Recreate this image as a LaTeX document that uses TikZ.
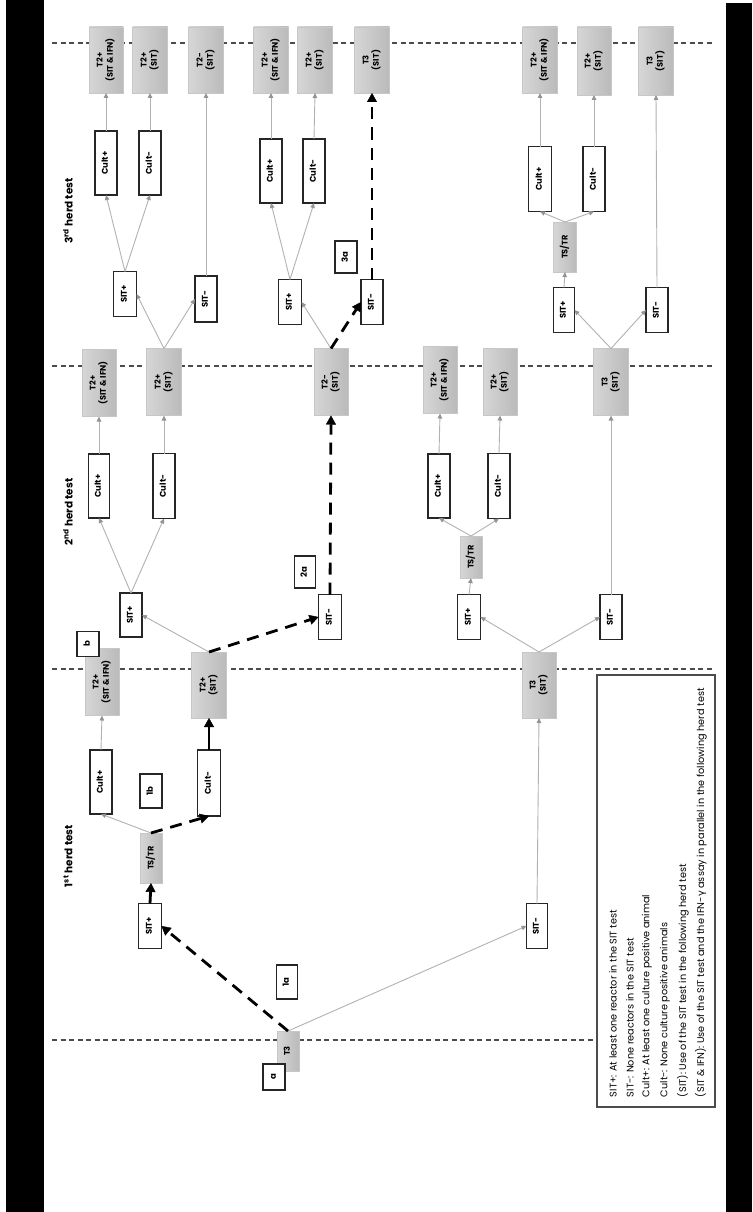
\documentclass[tikz,border=0pt]{standalone}
\usepackage{fontspec}
\setmainfont{Poppins}
\newfontfamily\grk{DejaVu Sans}
\usetikzlibrary{arrows.meta}
% rotated (bottom-to-top) box text, possibly on several lines
\newcommand\rt[1]{\rotatebox{90}{\begin{tabular}{@{}c@{}}#1\end{tabular}}}

\begin{document}
\begin{tikzpicture}[x=1pt,y=-1pt,
  every node/.style={inner sep=0pt, outer sep=0pt},
  sz/.style 2 args={minimum width=#1pt, minimum height=#2pt},
  box/.style={rectangle, draw=black!85, line width=1.1pt, fill=white,
    font=\bfseries\fontsize{8.4}{9.2}\selectfont},
  greybox/.style={rectangle, draw=black!22, line width=0.6pt,
    left color=black!16, right color=black!27,
    font=\bfseries\fontsize{8.2}{9.2}\selectfont},
  tag/.style={box, font=\bfseries\fontsize{8.5}{9.5}\selectfont},
  flow/.style={draw=black!30, line width=0.9pt,
    -{Triangle[length=5pt,width=4.5pt,color=black!42,fill=black!42]}},
  path1/.style={draw=black, line width=2.8pt, dash pattern=on 12pt off 8pt,
    -{Triangle[length=9pt,width=10pt,line width=0.4pt]}},
  path1solid/.style={draw=black, line width=2.8pt,
    -{Triangle[length=9pt,width=10pt,line width=0.4pt]}},
  sep/.style={draw=black!70, line width=1.3pt, dash pattern=on 5pt off 3.5pt},
  herd/.style={rotate=90, font=\bfseries\fontsize{10.5}{12}\selectfont},
  legend/.style={rotate=90, anchor=west, font=\fontsize{9.7}{11}\selectfont}
]
\useasboundingbox (0,0) rectangle (752,1212);
\fill[white] (0,0) rectangle (752,1212);

% side bars
\fill[black] (6,0) rectangle (44,1212);
\fill[black] (726,3) rectangle (752,1212);

% herd test boundaries
\draw[sep] (52,43) -- (712,43);
\draw[sep] (52,366) -- (712,366);
\draw[sep] (52,669) -- (712,669);
\draw[sep] (52,1040) -- (597,1040);

% stage titles
\node[herd] (h3) at (68,211) {3\textsuperscript{rd} herd test};
\node[herd] (h2) at (68,512) {2\textsuperscript{nd} herd test};
\node[herd] (h1) at (68,856) {1\textsuperscript{st} herd test};

% start
\node[greybox, sz={22}{40}] (t0) at (288,1051) {\rt{T3}};

% 1st herd test
\node[box, sz={23}{45}] (s1p) at (150,926) {\rt{SIT+}};
\node[box, sz={21}{45}] (s1m) at (537,926) {\rt{SIT-}};
\node[greybox, sz={22}{50}] (ts1) at (151,858) {\rt{TS/TR}};
\node[box, sz={22}{64}] (c1p) at (101,782) {\rt{Cult+}};
\node[box, sz={23}{66}] (c1m) at (209,783) {\rt{Cult-}};
\node[greybox, sz={34}{67}] (g1a) at (102,682) {\rt{T2+\\(SIT \& IFN)}};
\node[greybox, sz={35}{66}] (g1b) at (209,685) {\rt{T2+\\(SIT)}};
\node[greybox, sz={34}{66}] (g1c) at (539,685) {\rt{T3\\(SIT)}};

% 2nd herd test
\node[box, sz={22}{44}] (s2a) at (131,615) {\rt{SIT+}};
\node[box, sz={23}{45}] (s2b) at (330,617) {\rt{SIT-}};
\node[box, sz={23}{45}] (s2c) at (469,617) {\rt{SIT+}};
\node[box, sz={22}{45}] (s2d) at (611,617) {\rt{SIT-}};
\node[greybox, sz={22}{42}] (ts2) at (471,557) {\rt{TS/TR}};
\node[box, sz={21}{64}] (c2a) at (99,486) {\rt{Cult+}};
\node[box, sz={22}{65}] (c2b) at (164,486) {\rt{Cult-}};
\node[box, sz={22}{64}] (c2c) at (439,486) {\rt{Cult+}};
\node[box, sz={22}{65}] (c2d) at (499,486) {\rt{Cult-}};
\node[greybox, sz={34}{67}] (g2a) at (99,383) {\rt{T2+\\(SIT \& IFN)}};
\node[greybox, sz={35}{67}] (g2b) at (164,382) {\rt{T2+\\(SIT)}};
\node[greybox, sz={34}{67}] (g2c) at (331,382) {\rt{T2-\\(SIT)}};
\node[greybox, sz={34}{67}] (g2d) at (440,380) {\rt{T2+\\(SIT \& IFN)}};
\node[greybox, sz={34}{67}] (g2e) at (500,382) {\rt{T2+\\(SIT)}};
\node[greybox, sz={35}{67}] (g2f) at (611,382) {\rt{T3\\(SIT)}};

% 3rd herd test
\node[box, sz={23}{45}] (s3a) at (125,294) {\rt{SIT+}};
\node[box, sz={22}{46}] (s3b) at (206,299) {\rt{SIT-}};
\node[box, sz={23}{45}] (s3c) at (290,302) {\rt{SIT+}};
\node[box, sz={22}{45}] (s3d) at (372,302) {\rt{SIT-}};
\node[box, sz={21}{45}] (s3e) at (564,310) {\rt{SIT+}};
\node[box, sz={22}{45}] (s3f) at (657,310) {\rt{SIT-}};
\node[greybox, sz={23}{50}] (ts3) at (565,247) {\rt{TS/TR}};
\node[box, sz={22}{64}] (c3a) at (106,163) {\rt{Cult+}};
\node[box, sz={22}{64}] (c3b) at (150,163) {\rt{Cult-}};
\node[box, sz={22}{64}] (c3c) at (271,171) {\rt{Cult+}};
\node[box, sz={22}{64}] (c3d) at (314,171) {\rt{Cult-}};
\node[box, sz={23}{65}] (c3e) at (540,179) {\rt{Cult+}};
\node[box, sz={22}{65}] (c3f) at (594,179) {\rt{Cult-}};
\node[greybox, sz={34}{66}] (g3a) at (106,60) {\rt{T2+\\(SIT \& IFN)}};
\node[greybox, sz={35}{66}] (g3b) at (150,60) {\rt{T2+\\(SIT)}};
\node[greybox, sz={35}{66}] (g3c) at (206,60) {\rt{T2-\\(SIT)}};
\node[greybox, sz={35}{66}] (g3d) at (271,60) {\rt{T2+\\(SIT \& IFN)}};
\node[greybox, sz={35}{66}] (g3e) at (315,60) {\rt{T2+\\(SIT)}};
\node[greybox, sz={35}{66}] (g3f) at (372,60) {\rt{T3\\(SIT)}};
\node[greybox, sz={35}{66}] (g3g) at (540,60) {\rt{T2+\\(SIT \& IFN)}};
\node[greybox, sz={34}{68}] (g3h) at (594,61) {\rt{T2+\\(SIT)}};
\node[greybox, sz={35}{68}] (g3i) at (656,61) {\rt{T3\\(SIT)}};

% path tags
\node[tag, sz={22}{26}] (tga) at (274,1077) {\rt{a}};
\node[tag, sz={21}{34}] (tg1a) at (287,982) {\rt{1a}};
\node[tag, sz={22}{34}] (tg1b) at (151,791) {\rt{1b}};
\node[tag, sz={22}{25}] (tgb) at (88,644) {\rt{b}};
\node[tag, sz={21}{32}] (tg2a) at (305,572) {\rt{2a}};
\node[tag, sz={22}{32}] (tg3a) at (346,257) {\rt{3a}};

% connectors, 1st herd test
\draw[flow] (t0.north) -- (s1m.west);
\draw[path1] (t0.north) -- (s1p.east);
\draw[path1solid] (s1p.north) -- (ts1.south);
\draw[flow] (ts1.north) -- (c1p.south);
\draw[path1] (ts1.north) -- (c1m.south);
\draw[flow] (c1p.north) -- (g1a.south);
\draw[path1solid] (c1m.north) -- (g1b.south);
\draw[flow] (s1m.north) -- (g1c.south);

% connectors, 2nd herd test
\draw[flow] (g1b.north) -- (s2a.east);
\draw[path1] (g1b.north) -- (s2b.west);
\draw[flow] (g1c.north) -- (s2c.east);
\draw[flow] (g1c.north) -- (s2d.west);
\draw[flow] (s2a.north) -- (c2a.south);
\draw[flow] (s2a.north) -- (c2b.south);
\draw[flow] (c2a.north) -- (g2a.south);
\draw[flow] (c2b.north) -- (g2b.south);
\draw[path1] (s2b.north) -- (g2c.south);
\draw[flow] (s2c.north) -- (ts2.south);
\draw[flow] (ts2.north) -- (c2c.south);
\draw[flow] (ts2.north) -- (c2d.south);
\draw[flow] (c2c.north) -- (g2d.south);
\draw[flow] (c2d.north) -- (g2e.south);
\draw[flow] (s2d.north) -- (g2f.south);

% connectors, 3rd herd test
\draw[flow] (g2b.north) -- (s3a.east);
\draw[flow] (g2b.north) -- (s3b.west);
\draw[flow] (g2c.north) -- (s3c.east);
\draw[path1] (g2c.north) -- (s3d.west);
\draw[flow] (g2f.north) -- (s3e.east);
\draw[flow] (g2f.north) -- (s3f.west);
\draw[flow] (s3a.north) -- (c3a.south);
\draw[flow] (s3a.north) -- (c3b.south);
\draw[flow] (c3a.north) -- (g3a.south);
\draw[flow] (c3b.north) -- (g3b.south);
\draw[flow] (s3b.north) -- (g3c.south);
\draw[flow] (s3c.north) -- (c3c.south);
\draw[flow] (s3c.north) -- (c3d.south);
\draw[flow] (c3c.north) -- (g3d.south);
\draw[flow] (c3d.north) -- (g3e.south);
\draw[path1] (s3d.north) -- (g3f.south);
\draw[flow] (s3e.north) -- (ts3.south);
\draw[flow] (ts3.north) -- (c3e.south);
\draw[flow] (ts3.north) -- (c3f.south);
\draw[flow] (c3e.north) -- (g3g.south);
\draw[flow] (c3f.north) -- (g3h.south);
\draw[flow] (s3f.north) -- (g3i.south);

% legend
\draw[black!70, line width=1.2pt, fill=white] (597,675) rectangle (715,1107);
\node[legend] (l1) at (613,1097) {SIT+: At least one reactor in the SIT test};
\node[legend] (l2) at (630,1097) {SIT-: None reactors in the SIT test};
\node[legend] (l3) at (647,1097) {Cult+: At least one culture positive animal};
\node[legend] (l4) at (665,1097) {Cult-: None culture positive animals};
\node[legend] (l5) at (683,1097) {(SIT): Use of the SIT test in the following herd test};
\node[legend] (l6) at (701,1097) {(SIT \& IFN): Use of the SIT test and the IFN-{\grk γ} assay in parallel in the following herd test};
\end{tikzpicture}
\end{document}
